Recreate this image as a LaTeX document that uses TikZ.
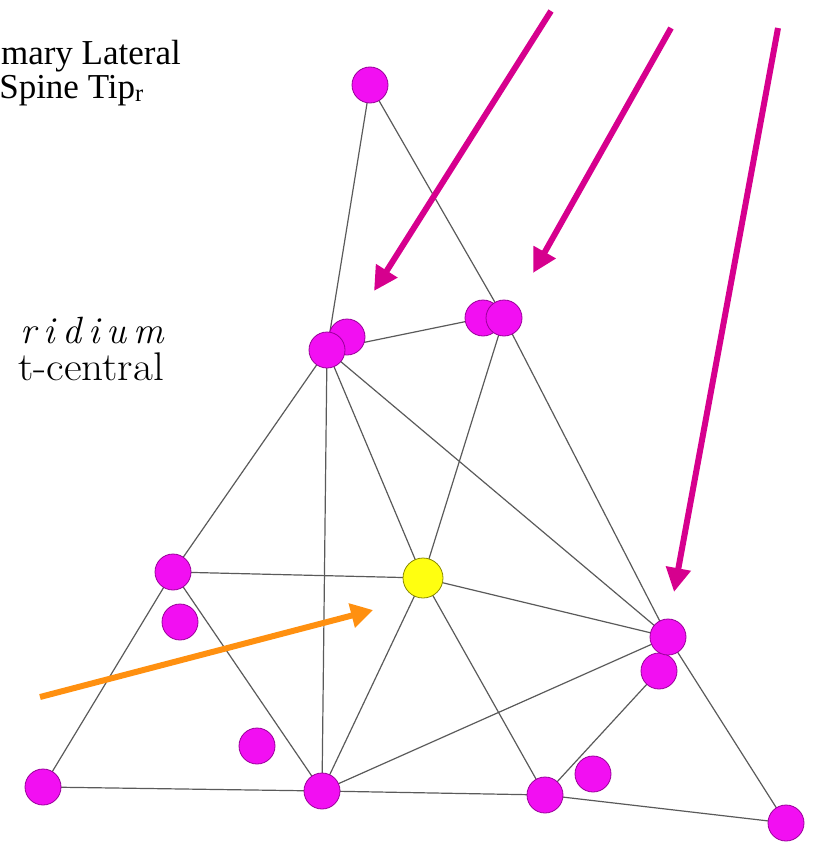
\documentclass[tikz,border=0pt]{standalone}
\usepackage{fontspec}
\newfontfamily\timesf{Liberation Serif}
\usetikzlibrary{arrows.meta}
\pgfdeclarelayer{bg}
\pgfsetlayers{bg,main}
\definecolor{mag}{HTML}{F20FF2}
\definecolor{magb}{HTML}{990099}
\definecolor{yel}{HTML}{FFFF10}
\definecolor{yelb}{HTML}{8A8A00}
\definecolor{arrm}{HTML}{D6008E}
\definecolor{arro}{HTML}{FF9010}
\definecolor{edge}{HTML}{5A5A5A}
\newcommand{\lsp}{\hspace{7pt}}
\tikzset{
  pt/.style={circle,fill=mag,draw=magb,line width=0.8pt,minimum size=36pt,inner sep=0pt},
  ypt/.style={circle,fill=yel,draw=yelb,line width=0.8pt,minimum size=40pt,inner sep=0pt},
  ed/.style={draw=edge,line width=1.2pt},
  marr/.style={draw=arrm,line width=6pt,-{Triangle[length=24pt,width=24pt]}},
  oarr/.style={draw=arro,line width=6pt,-{Triangle[length=22pt,width=24pt]}},
  ttext/.style={font=\timesf\fontsize{35}{38}\selectfont,inner sep=0pt},
  itext/.style={font=\fontsize{38}{42}\selectfont\itshape,inner sep=0pt},
  ltext/.style={font=\fontsize{40}{44}\selectfont,inner sep=0pt}
}
\begin{document}
\begin{tikzpicture}[x=1pt,y=-1pt]
\useasboundingbox (0,0) rectangle (817,843);
% texts
\node[ttext,anchor=base east] (t1) at (181,65) {mary Lateral};
\node[ttext,anchor=base east] (t2) at (144,98) {Spine Tip\textsubscript{r}};
\node[itext,anchor=base east] (t3) at (164,343) {r\lsp i\lsp d\lsp i\lsp u\lsp m};
\node[ltext,anchor=base east,xscale=1.08] (t4) at (164,380) {t-central};
% nodes
\node[pt] (top) at (370,85) {};
\node[pt] (a2) at (347,337) {};
\node[pt] (a1) at (327,350) {};
\node[pt] (b1) at (483,318) {};
\node[pt] (b2) at (504,318) {};
\node[pt] (l) at (173,572) {};
\node[pt] (l2) at (180,622) {};
\node[ypt] (y) at (423,578) {};
\node[pt] (r2) at (659,671) {};
\node[pt] (r) at (668,637) {};
\node[pt] (bl) at (43,787) {};
\node[pt] (bm2) at (257,746) {};
\node[pt] (bm) at (322,791) {};
\node[pt] (br1) at (545,795) {};
\node[pt] (br2) at (593,774) {};
\node[pt] (brr) at (786,823) {};
% edges
\begin{pgfonlayer}{bg}
\draw[ed] (top.center) -- (a1.center);
\draw[ed] (top.center) -- (b2.center);
\draw[ed] (a1.center) -- (b1.center);
\draw[ed] (a1.center) -- (l.center);
\draw[ed] (a1.center) -- (bm.center);
\draw[ed] (a1.center) -- (y.center);
\draw[ed] (a1.center) -- (r.center);
\draw[ed] (b2.center) -- (y.center);
\draw[ed] (b2.center) -- (r.center);
\draw[ed] (l.center) -- (y.center);
\draw[ed] (l.center) -- (bl.center);
\draw[ed] (l.center) -- (bm.center);
\draw[ed] (y.center) -- (bm.center);
\draw[ed] (y.center) -- (br1.center);
\draw[ed] (y.center) -- (r.center);
\draw[ed] (bm.center) -- (r.center);
\draw[ed] (bl.center) -- (bm.center);
\draw[ed] (bm.center) -- (br1.center);
\draw[ed] (br1.center) -- (r2.center);
\draw[ed] (br1.center) -- (brr.center);
\draw[ed] (r.center) -- (brr.center);
\end{pgfonlayer}
% arrows
\coordinate (m1s) at (551,11);
\coordinate (m1e) at (374,291);
\coordinate (m2s) at (671,28);
\coordinate (m2e) at (533,273);
\coordinate (m3s) at (778,28);
\coordinate (m3e) at (674,592);
\coordinate (os) at (40,697);
\coordinate (oe) at (373,610);
\draw[marr] (m1s) -- (m1e);
\draw[marr] (m2s) -- (m2e);
\draw[marr] (m3s) -- (m3e);
\draw[oarr] (os) -- (oe);
\end{tikzpicture}
\end{document}
